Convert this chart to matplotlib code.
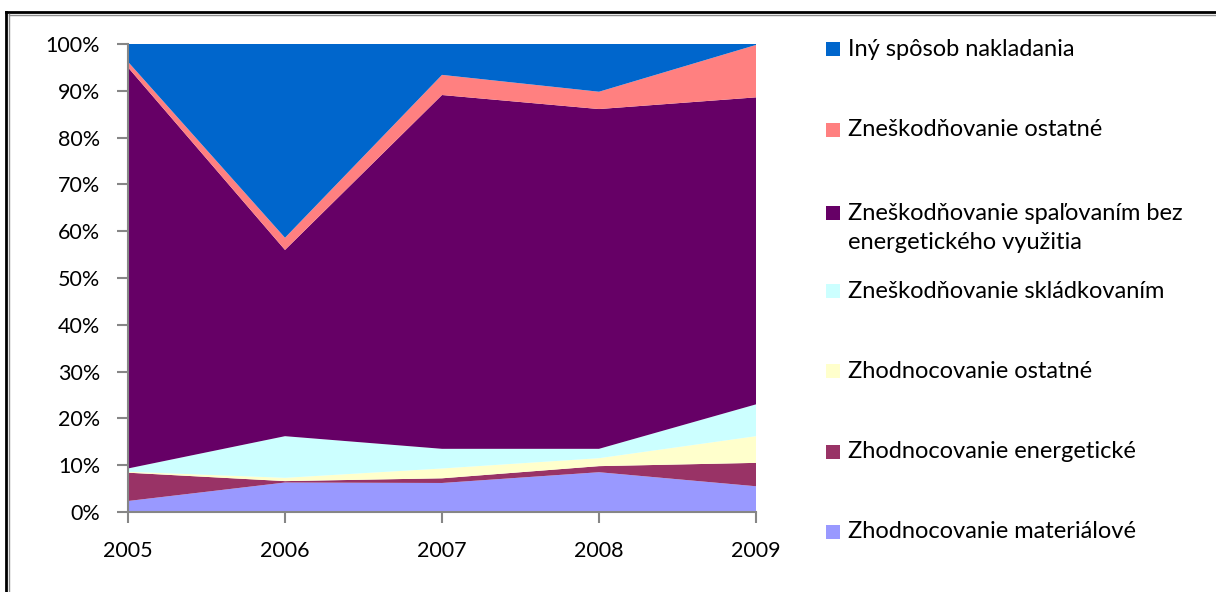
import numpy as np
import matplotlib
matplotlib.use("Agg")
from matplotlib import pyplot as plt
from matplotlib.patches import Rectangle
from matplotlib.lines import Line2D

plt.rcParams['font.family'] = ['Lato', 'DejaVu Sans']

years = [2005, 2006, 2007, 2008, 2009]

# share of each treatment method, % (bottom to top)
materialove = [2.35, 6.3, 6.2, 8.5, 5.5]
energeticke = [6.05, 0.3, 1.0, 1.3, 5.0]
zhodn_ostatne = [0.2, 0.7, 2.1, 1.7, 5.7]
skladkovanim = [0.7, 8.9, 4.2, 2.0, 6.8]
spalovanim = [85.7, 39.8, 75.6, 72.6, 65.6]
znesk_ostatne = [1.2, 2.6, 4.3, 3.7, 11.2]
iny_sposob = [3.8, 41.4, 6.6, 10.2, 0.2]

labels = [
    "Zhodnocovanie materiálové",
    "Zhodnocovanie energetické",
    "Zhodnocovanie ostatné",
    "Zneškodňovanie skládkovaním",
    "Zneškodňovanie spaľovaním bez\nenergetického využitia",
    "Zneškodňovanie ostatné",
    "Iný spôsob nakladania",
]
colors = ["#9999FF", "#993366", "#FFFFCC", "#CCFFFF", "#660066", "#FF8080", "#0066CC"]

series = np.array([materialove, energeticke, zhodn_ostatne, skladkovanim,
                   spalovanim, znesk_ostatne, iny_sposob], dtype=float)
series = series / series.sum(axis=0) * 100

W, H = 1216, 592
fig = plt.figure(figsize=(W / 100, H / 100), dpi=100)
ax = fig.add_axes([128 / W, 1 - 512 / H, (756 - 128) / W, (512 - 44) / H])

ax.stackplot(years, series, colors=colors, linewidth=0)

ax.set_xlim(2005, 2009)
ax.set_ylim(0, 100)
ax.set_xticks(years)
ax.set_yticks(range(0, 101, 10))
ax.set_yticklabels([f"{v}%" for v in range(0, 101, 10)])
ax.tick_params(axis='both', direction='out', length=8, width=1.5, color='#868686',
               labelsize=15.5, labelcolor='black')
ax.tick_params(axis='x', pad=13)
ax.tick_params(axis='y', pad=12)
for s in ['top', 'right']:
    ax.spines[s].set_visible(False)
for s in ['left', 'bottom']:
    ax.spines[s].set_color('#868686')
    ax.spines[s].set_linewidth(1.5)

# legend drawn by hand, top entry first
legend_y = [49, 130, 228, 291, 371, 452, 532]
for lab, col, yc in zip(labels[::-1], colors[::-1], legend_y):
    n_lines = lab.count("\n") + 1
    sq_y = yc - (n_lines - 1) * 15
    fig.patches.append(Rectangle((826 / W, 1 - (sq_y + 7) / H), 14 / W, 14 / H,
                                 transform=fig.transFigure, facecolor=col,
                                 edgecolor='none'))
    fig.text(848 / W, 1 - yc / H, lab, ha='left', va='center', fontsize=17,
             linespacing=1.45)

# outer chart frame
fig.add_artist(Line2D([5.5 / W, 5.5 / W], [0, 1 - 12 / H], transform=fig.transFigure,
                      color='black', lw=2))
fig.add_artist(Line2D([5.5 / W, 1], [1 - 12 / H, 1 - 12 / H], transform=fig.transFigure,
                      color='black', lw=2))
fig.add_artist(Line2D([8.5 / W, 8.5 / W], [0, 1 - 14 / H], transform=fig.transFigure,
                      color='#8c8c8c', lw=1))
fig.add_artist(Line2D([8.5 / W, 1], [1 - 14.5 / H, 1 - 14.5 / H], transform=fig.transFigure,
                      color='#8c8c8c', lw=1))

fig.savefig("out.png", dpi=100)
